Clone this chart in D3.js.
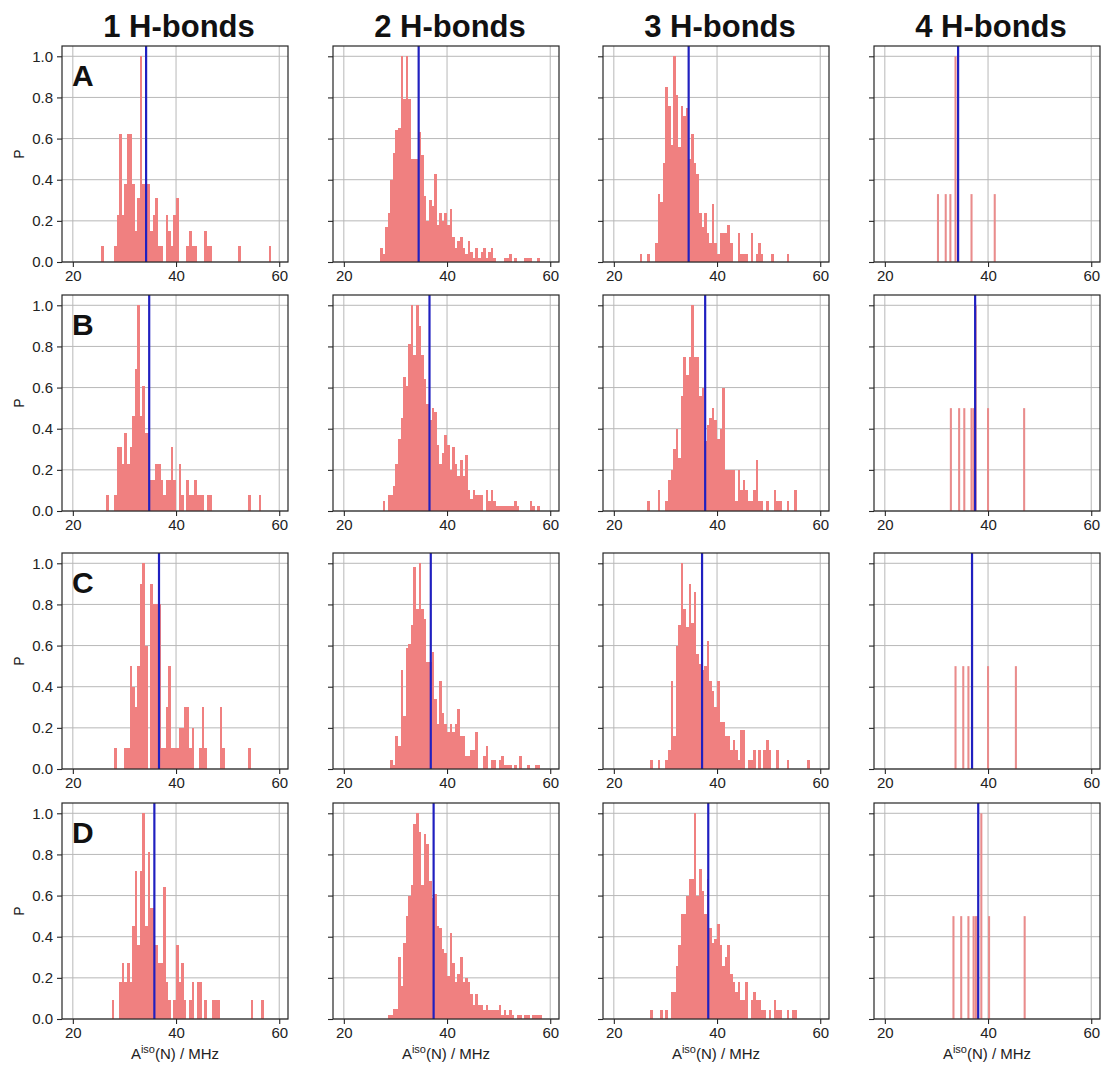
<!DOCTYPE html>
<html>
<head>
<meta charset="utf-8">
<script src="https://cdn.jsdelivr.net/npm/d3@7"></script>
<style>
  body { margin: 0; background: #fff; }
  svg { display: block; font-family: "Liberation Sans", Arial, sans-serif; }
</style>
</head>
<body>
<svg id="chart" width="1103" height="1066"></svg>
<script>
// ---- data ----
const columnTitles = ["1 H-bonds", "2 H-bonds", "3 H-bonds", "4 H-bonds"];
const rowLetters = ["A", "B", "C", "D"];
const xTicks = [20, 40, 60];
const yTicks = [0, 0.2, 0.4, 0.6, 0.8, 1.0];
const binWidth = 0.5;     // MHz, dense histograms
const spikeWidth = 0.4;   // MHz, 4 H-bond histograms

// blue reference line per row / column
const refLines = [
  [34.2, 34.5, 34.5, 34.2],
  [34.8, 36.6, 37.7, 37.5],
  [36.7, 36.85, 37.1, 36.9],
  [35.8, 37.4, 38.3, 38.1]
];

// first bin edge for the dense histograms (columns 1-3)
const binStarts = [
  [25.5, 27.0, 25.0],
  [26.5, 27.5, 26.5],
  [28.0, 29.0, 27.0],
  [27.5, 28.5, 27.0]
];

// row A
const pA1 = [0.077,0,0,0,0,0.077,0.23,0.62,0.23,0.38,0.62,0.62,0.38,0.15,0.31,1.0,0.38,0.38,0.38,0.15,0.23,0.31,0.077,0.077,0,0.23,0.15,0.077,0.23,0.31,0,0,0,0.077,0.15,0.077,0.077,0,0,0,0.15,0.077,0.077,0,0,0,0,0,0,0,0,0,0,0.077,0,0,0,0,0,0,0,0,0,0,0,0.077];
const pA2 = [0.07,0.04,0.17,0.24,0.40,0.53,0.64,0.65,1.0,0.79,1.0,0.79,0.5,0.5,0.5,0.63,0.52,0.32,0.2,0.3,0.27,0.43,0.18,0.24,0.2,0.24,0.18,0.26,0.12,0.07,0.1,0.12,0.07,0.04,0.1,0.05,0.02,0.07,0.02,0.05,0.07,0.02,0.05,0.07,0.02,0,0,0,0.02,0.02,0.04,0,0.02,0,0,0,0.02,0.02,0.02,0,0,0.02];
const pA3 = [0.04,0,0,0.04,0,0,0.09,0.33,0.29,0.48,0.85,0.76,0.57,1.0,0.81,0.56,0.76,0.71,0.75,0.5,0.62,0.48,0.43,0.24,0.17,0.24,0.14,0.09,0.28,0.09,0.04,0.14,0.14,0.14,0.18,0.09,0,0,0.14,0.04,0.04,0.04,0,0.14,0,0.04,0.09,0.04,0,0,0,0.04,0,0,0,0,0,0.04];
const xA4 = [30.1, 31.6, 32.5, 33.5, 36.6, 41.1];
const pA4 = [0.33, 0.33, 0.33, 1.0, 0.33, 0.33];

// row B
const pB1 = [0.077,0,0,0.077,0.31,0.31,0.23,0.38,0.23,0.31,0.46,0.69,1.0,0.46,0.61,0.38,0.38,0.15,0.15,0.23,0.23,0.15,0.077,0.15,0.15,0.31,0.15,0,0.23,0.077,0,0.15,0.077,0.077,0.15,0.077,0.077,0.077,0,0.077,0.077,0,0,0,0,0,0,0,0,0,0,0,0,0,0,0.077,0,0,0,0.077];
const pB2 = [0.05,0,0.077,0.077,0.12,0.23,0.35,0.45,0.65,0.61,0.81,1.0,0.76,1.0,0.9,0.76,0.64,0.52,0.44,0.5,0.48,0.32,0.23,0.28,0.37,0.32,0.2,0.31,0.23,0.17,0.25,0.17,0.27,0.1,0.06,0.1,0.077,0.077,0.077,0,0.1,0.05,0.1,0.05,0.025,0.025,0.025,0.025,0.025,0.025,0.025,0.05,0.025,0,0,0,0,0.05,0.025,0,0.025];
const pB3 = [0.05,0,0,0,0.1,0,0,0.05,0.15,0.2,0.3,0.4,0.26,0.56,0.75,0.66,0.75,1.0,0.75,0.75,0.56,0.6,0.34,0.42,0.45,0.5,0.44,0.35,0.4,0.6,0.2,0.2,0.2,0.2,0.05,0.2,0.1,0.15,0.1,0.05,0.05,0.1,0.25,0.05,0.05,0,0.05,0,0,0.1,0.05,0.05,0,0,0.05,0,0,0.1];
const xB4 = [32.6, 34.2, 35.2, 36.6, 37.0, 37.4, 39.8, 46.8];
const pB4 = [0.5, 0.5, 0.5, 0.5, 0.5, 1.0, 0.5, 0.5];

// row C
const pC1 = [0.1,0,0,0,0.1,0.1,0.5,0.4,0.3,0.5,0.9,1.0,0.6,0,0.9,0.8,0.8,0.8,0.1,0.1,0.3,0.5,0.1,0.1,0.1,0.2,0.2,0.3,0.3,0.1,0.2,0,0,0.1,0.3,0.1,0,0,0,0,0,0.3,0.1,0,0,0,0,0,0,0,0,0,0.1];
const pC2 = [0.045,0.02,0.16,0.11,0.48,0.26,0.59,0.61,0.70,0.98,0.78,1.0,0.78,0.73,0.52,0.52,0.57,0.34,0.22,0.43,0.27,0.22,0.18,0.22,0.18,0.22,0.29,0.16,0.16,0.065,0.065,0.09,0.09,0.18,0,0,0.065,0.11,0,0.045,0.045,0,0.045,0.065,0.02,0.02,0.02,0,0.02,0,0.065,0,0,0.02,0,0,0.02,0.02];
const pC3 = [0.045,0,0,0.045,0,0,0.045,0.09,0.43,0.16,0.6,0.7,1.0,0.78,0.69,0.9,0.71,0.86,0.56,0.51,0.48,0.5,0.62,0.43,0.38,0.3,0.43,0.23,0.23,0.16,0.16,0.09,0.14,0.09,0.045,0.19,0.19,0,0.045,0.045,0.09,0,0.09,0,0.09,0.14,0.09,0,0,0.09,0,0,0,0.045,0,0,0,0,0,0,0,0.045];
const xC4 = [33.5, 35.0, 36.0, 36.7, 39.8, 45.2];
const pC4 = [0.5, 0.5, 0.5, 1.0, 0.5, 0.5];

// row D
const pD1 = [0.09,0,0,0.18,0.27,0.18,0.27,0.18,0.45,0.72,0.36,0.72,1.0,0.45,0.81,0.54,0.54,0.36,0.27,0.27,0.64,0.18,0.09,0,0.09,0.36,0.18,0.27,0.09,0,0.09,0.18,0,0.18,0.18,0,0.09,0,0,0.09,0.09,0.09,0,0,0,0,0,0,0,0,0,0,0,0,0.09,0,0,0,0.09];
const pD2 = [0.02,0.02,0.05,0.05,0.3,0.16,0.37,0.5,0.6,0.65,0.95,1.0,0.91,0.65,0.9,0.85,0.67,0.59,0.61,0.45,0.44,0.34,0.32,0.21,0.42,0.27,0.18,0.22,0.3,0.18,0.2,0.18,0.12,0.07,0.12,0.07,0.07,0.045,0.07,0.045,0.045,0.045,0.045,0.07,0.02,0.045,0.02,0.045,0.02,0,0.02,0.02,0,0.02,0.02,0,0.02,0.02,0.02,0.02];
const pD3 = [0.045,0,0,0,0.045,0,0.045,0,0.13,0.13,0.26,0.36,0.51,0.51,0.6,0.68,0.68,1.0,0.6,0.73,0.62,0.51,0.68,0.44,0.37,0.39,0.46,0.36,0.26,0.3,0.36,0.22,0.18,0.13,0.18,0.09,0.09,0.18,0,0.09,0.13,0.09,0.09,0.045,0.045,0,0.045,0,0.09,0.045,0.045,0,0,0.045,0,0.045,0.045];
const xD4 = [33.1, 34.6, 36.0, 37.0, 37.4, 37.7, 38.5, 40.0, 46.9];
const pD4 = [0.5, 0.5, 0.5, 0.5, 0.5, 0.5, 1.0, 0.5, 0.5];

const denseP = [[pA1, pA2, pA3], [pB1, pB2, pB3], [pC1, pC2, pC3], [pD1, pD2, pD3]];
const spikeX = [xA4, xB4, xC4, xD4];
const spikeP = [pA4, pB4, pC4, pD4];

// ---- layout ----
const colLeft = [62, 333, 603, 874];
const rowTop = [46, 295, 553, 803];
const panelW = 226, panelH = 216;
const barColor = "#f08080";
const lineColor = "#2020c0";
const fontStack = "\"Liberation Sans\", Arial, sans-serif";

const svg = d3.select("#chart");

const x = d3.scaleLinear().domain([17.9, 61.7]).range([0, panelW]);
const y = d3.scaleLinear().domain([0, 1.05]).range([panelH, 0]);

// column titles
columnTitles.forEach((t, c) => {
  svg.append("text")
    .attr("x", colLeft[c] + panelW / 2 + 4)
    .attr("y", 37)
    .attr("text-anchor", "middle")
    .attr("font-size", 31)
    .attr("font-weight", "bold")
    .attr("fill", "#111")
    .text(t);
});

rowLetters.forEach((letter, r) => {
  for (let c = 0; c < 4; c++) {
    const g = svg.append("g").attr("transform", `translate(${colLeft[c]},${rowTop[r]})`);

    // grid
    g.append("g").selectAll("line").data(xTicks).join("line")
      .attr("x1", d => x(d)).attr("x2", d => x(d))
      .attr("y1", 0).attr("y2", panelH)
      .attr("stroke", "#b8b8b8").attr("stroke-width", 1);
    g.append("g").selectAll("line").data(yTicks).join("line")
      .attr("x1", 0).attr("x2", panelW)
      .attr("y1", d => y(d)).attr("y2", d => y(d))
      .attr("stroke", "#b8b8b8").attr("stroke-width", 1);

    // bars
    if (c < 3) {
      const start = binStarts[r][c];
      const bins = denseP[r][c].map((p, i) => ({ x0: start + i * binWidth, p }));
      g.append("g").selectAll("rect").data(bins.filter(d => d.p > 0)).join("rect")
        .attr("x", d => x(d.x0))
        .attr("width", x(binWidth) - x(0))
        .attr("y", d => y(d.p))
        .attr("height", d => y(0) - y(d.p))
        .attr("fill", barColor)
        .attr("shape-rendering", "crispEdges");
    } else {
      const spikes = spikeX[r].map((v, i) => ({ x0: v, p: spikeP[r][i] }));
      g.append("g").selectAll("rect").data(spikes).join("rect")
        .attr("x", d => x(d.x0))
        .attr("width", x(spikeWidth) - x(0))
        .attr("y", d => y(d.p))
        .attr("height", d => y(0) - y(d.p))
        .attr("fill", "#e98c8c");
    }

    // reference line
    g.append("line")
      .attr("x1", x(refLines[r][c])).attr("x2", x(refLines[r][c]))
      .attr("y1", 0).attr("y2", panelH)
      .attr("stroke", lineColor).attr("stroke-width", 2.2);

    // frame
    g.append("rect")
      .attr("width", panelW).attr("height", panelH)
      .attr("fill", "none").attr("stroke", "#262626").attr("stroke-width", 1.2);

    // axes
    const xAxis = g.append("g").attr("transform", `translate(0,${panelH})`)
      .call(d3.axisBottom(x).tickValues(xTicks).tickSize(5).tickPadding(3));
    const yAxis = g.append("g")
      .call(d3.axisLeft(y).tickValues(yTicks).tickSize(5).tickPadding(4)
        .tickFormat(c === 0 ? d3.format(".1f") : () => ""));
    [xAxis, yAxis].forEach(a => {
      a.select(".domain").remove();
      a.selectAll(".tick line").attr("stroke", "#262626").attr("stroke-width", 1.1);
      a.selectAll(".tick text").attr("font-size", 15).attr("fill", "#222")
        .attr("font-family", fontStack);
    });

    if (c === 0) {
      // panel letter
      g.append("text")
        .attr("x", 10).attr("y", 40)
        .attr("font-size", 30).attr("font-weight", "bold").attr("fill", "#111")
        .text(letter);
      // y label
      g.append("text")
        .attr("transform", `translate(${19 - colLeft[c]},${panelH / 2}) rotate(-90)`)
        .attr("text-anchor", "middle")
        .attr("dy", "0.35em")
        .attr("font-size", 14).attr("fill", "#222")
        .text("P");
    }

    if (r === 3) {
      const lab = g.append("text")
        .attr("x", panelW / 2).attr("y", panelH + 40)
        .attr("text-anchor", "middle")
        .attr("font-size", 15).attr("fill", "#222");
      lab.append("tspan").text("A");
      lab.append("tspan").attr("dy", -6).attr("font-size", 11).text("iso");
      lab.append("tspan").attr("dy", 6).text("(N) / MHz");
    }
  }
});
</script>
</body>
</html>
